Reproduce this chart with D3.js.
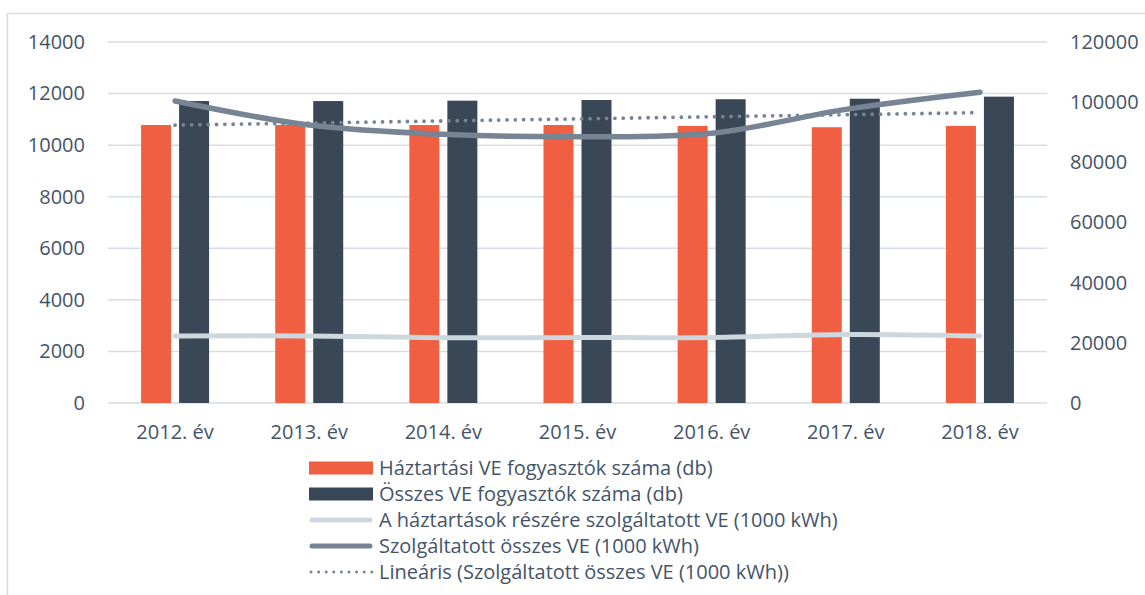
<!DOCTYPE html>
<html>
<head>
<meta charset="utf-8">
<script src="https://cdn.jsdelivr.net/npm/d3@7"></script>
<style>
  html, body { margin: 0; padding: 0; background: #ffffff; }
  svg { display: block; }
  text { font-family: "Open Sans", sans-serif; fill: #44546a; }
</style>
</head>
<body>
<svg id="chart" width="1145" height="595"></svg>
<script>
// ---- data ----
const categories = ["2012. év", "2013. év", "2014. év", "2015. év", "2016. év", "2017. év", "2018. év"];
const households = [10780, 10780, 10780, 10780, 10745, 10695, 10745];      // Háztartási VE fogyasztók száma (db)
const allConsumers = [11710, 11710, 11725, 11750, 11780, 11800, 11880];    // Összes VE fogyasztók száma (db)
const householdEnergy = [22300, 22300, 21700, 21750, 21800, 22800, 22300]; // A háztartások részére szolgáltatott VE (1000 kWh)
const totalEnergy = [100400, 92400, 89300, 88500, 89650, 97600, 103300];   // Szolgáltatott összes VE (1000 kWh)
const leftTicks = [0, 2000, 4000, 6000, 8000, 10000, 12000, 14000];
const rightTicks = [0, 20000, 40000, 60000, 80000, 100000, 120000];
const legendLabels = [
  "Háztartási VE fogyasztók száma (db)",
  "Összes VE fogyasztók száma (db)",
  "A háztartások részére szolgáltatott VE (1000 kWh)",
  "Szolgáltatott összes VE (1000 kWh)",
  "Lineáris (Szolgáltatott összes VE (1000 kWh))"
];

// linear trendline (least squares) of totalEnergy, as the chart's "Lineáris" trend
const n = totalEnergy.length;
const xs = d3.range(n);
const mx = d3.mean(xs), my = d3.mean(totalEnergy);
const slope = d3.sum(xs, i => (i - mx) * (totalEnergy[i] - my)) / d3.sum(xs, i => (i - mx) ** 2);
const trend = xs.map(i => my + slope * (i - mx));

// ---- colours ----
const cOrange = "#f05f41", cDark = "#394756", cLight = "#cdd7de", cGrey = "#768493", cGrid = "#d6dde6";
const cText = "#44546a";

const svg = d3.select("#chart");
const L = 108, R = 1047, T = 42, B = 403;

// chart border (cropped frame)
svg.append("path").attr("d", `M7.5,600 V13.5 H1150`).attr("fill", "none").attr("stroke", cGrid).attr("stroke-width", 1.5);

const x0 = d3.scaleBand().domain(categories).range([L, R]).padding(0);
const x1 = d3.scaleBand().domain(["h", "a"]).range([0, x0.bandwidth()]).paddingInner(8 / 38).paddingOuter(0.87);
const yL = d3.scaleLinear().domain([0, 14000]).range([B, T]);
const yR = d3.scaleLinear().domain([0, 120000]).range([B, T]);

// gridlines
svg.append("g").selectAll("line").data(leftTicks).join("line")
  .attr("x1", L).attr("x2", R)
  .attr("y1", d => yL(d)).attr("y2", d => yL(d))
  .attr("stroke", cGrid).attr("stroke-width", 1.5);

function styleAxis(g) {
  g.select(".domain").remove();
  g.selectAll("text").attr("font-size", 20).style("fill", cText).style("font-family", "Open Sans, sans-serif");
}

// left axis
svg.append("g").attr("transform", `translate(${L},0)`)
  .call(d3.axisLeft(yL).tickValues(leftTicks).tickSize(0).tickPadding(23).tickFormat(d3.format("d")))
  .call(styleAxis);

// right axis
svg.append("g").attr("transform", `translate(${R},0)`)
  .call(d3.axisRight(yR).tickValues(rightTicks).tickSize(0).tickPadding(23).tickFormat(d3.format("d")))
  .call(styleAxis);

// x axis
svg.append("g").attr("transform", `translate(0,${B})`)
  .call(d3.axisBottom(x0).tickSize(0).tickPadding(22))
  .call(styleAxis);

// bars
const bars = svg.append("g");
bars.selectAll("rect.h").data(categories).join("rect").attr("class", "h")
  .attr("x", d => x0(d) + x1("h")).attr("width", x1.bandwidth())
  .attr("y", (d, i) => yL(households[i])).attr("height", (d, i) => B - yL(households[i]))
  .attr("fill", cOrange);
bars.selectAll("rect.a").data(categories).join("rect").attr("class", "a")
  .attr("x", d => x0(d) + x1("a")).attr("width", x1.bandwidth())
  .attr("y", (d, i) => yL(allConsumers[i])).attr("height", (d, i) => B - yL(allConsumers[i]))
  .attr("fill", cDark);

const cx = d => x0(d) + x0.bandwidth() / 2;
const smooth = d3.line().curve(d3.curveCatmullRom.alpha(0));

// household energy line
svg.append("path")
  .attr("d", smooth(categories.map((c, i) => [cx(c), yR(householdEnergy[i])])))
  .attr("fill", "none").attr("stroke", cLight).attr("stroke-width", 5).attr("stroke-linecap", "round");

// trend line (dotted)
svg.append("path")
  .attr("d", d3.line()(categories.map((c, i) => [cx(c), yR(trend[i])])))
  .attr("fill", "none").attr("stroke", cGrey).attr("stroke-width", 3.8)
  .attr("stroke-linecap", "round").attr("stroke-dasharray", "0 8.3");

// total energy line
svg.append("path")
  .attr("d", smooth(categories.map((c, i) => [cx(c), yR(totalEnergy[i])])))
  .attr("fill", "none").attr("stroke", cGrey).attr("stroke-width", 5.5).attr("stroke-linecap", "round");

// legend
const lg = svg.append("g");
const ly0 = 468, ldy = 26, lx = 309, lw = 64;
legendLabels.forEach((lab, i) => {
  const y = ly0 + i * ldy;
  if (i === 0 || i === 1) {
    lg.append("rect").attr("x", lx).attr("y", y - 6.5).attr("width", lw).attr("height", 13)
      .attr("fill", i === 0 ? cOrange : cDark);
  } else if (i === 2) {
    lg.append("line").attr("x1", lx + 3).attr("x2", lx + lw - 3).attr("y1", y).attr("y2", y)
      .attr("stroke", cLight).attr("stroke-width", 5).attr("stroke-linecap", "round");
  } else if (i === 3) {
    lg.append("line").attr("x1", lx + 3).attr("x2", lx + lw - 3).attr("y1", y).attr("y2", y)
      .attr("stroke", cGrey).attr("stroke-width", 5).attr("stroke-linecap", "round");
  } else {
    lg.append("line").attr("x1", lx + 2).attr("x2", lx + lw).attr("y1", y).attr("y2", y)
      .attr("stroke", cGrey).attr("stroke-width", 3).attr("stroke-linecap", "round")
      .attr("stroke-dasharray", "0 7.6");
  }
  lg.append("text").attr("x", 379).attr("y", y).attr("dy", "0.36em")
    .attr("font-size", 20).text(lab);
});
</script>
</body>
</html>
